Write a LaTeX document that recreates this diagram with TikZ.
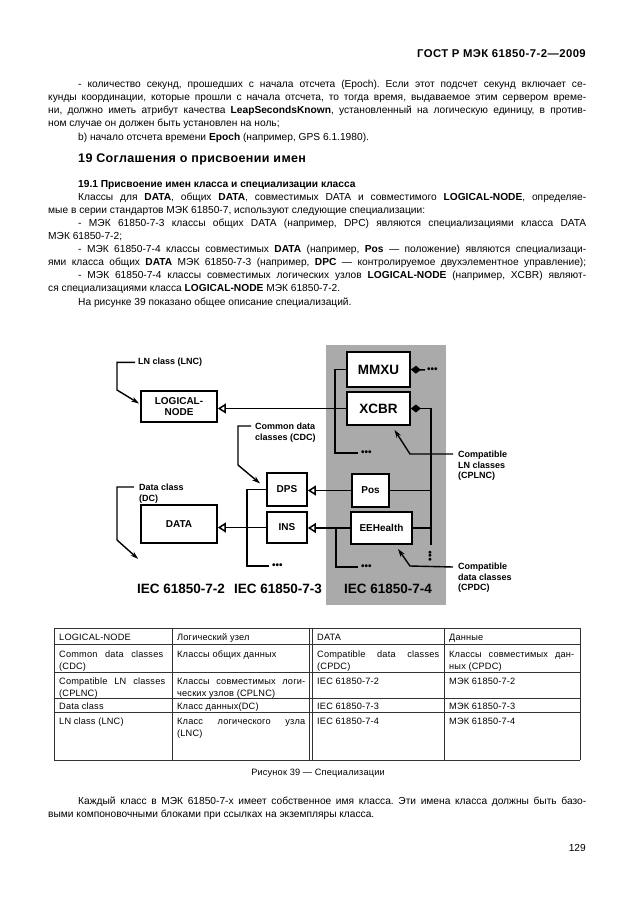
\documentclass[tikz,border=0pt]{standalone}
\usepackage{fontspec}
\setmainfont{Liberation Sans}
\newfontfamily\headfont[LetterSpace=3]{Liberation Sans}
\newfontfamily\hdrfont[LetterSpace=4]{Liberation Sans}
\newfontfamily\tabfont[LetterSpace=2]{Liberation Sans}
\usetikzlibrary{arrows.meta,calc}
\definecolor{panelgray}{RGB}{170,170,170}
\definecolor{tline}{RGB}{50,50,50}
\frenchspacing
\newcommand\jl[6]{\node[#1] (#2) at (#3,#4) {\hbox to #5pt{\frenchspacing\spaceskip=0.3em plus 1fil\relax #6}};}
\begin{document}
\begin{tikzpicture}[x=1pt,y=-1pt,
  txt/.style={anchor=base west, inner sep=0pt, font=\fontsize{10.2}{13}\selectfont},
  ttxt/.style={anchor=base west, inner sep=0pt, font=\fontsize{9.2}{12}\tabfont},
  box/.style={draw=black, line width=1.8pt, fill=white, inner sep=0pt, align=center,
              font=\fontsize{10}{11}\selectfont\bfseries},
  bigbox/.style={box, font=\fontsize{13.5}{14}\selectfont\bfseries},
  conn/.style={line width=1.5pt},
  hollow/.style={conn, -{Triangle[open,length=8pt,width=10pt,line width=1.5pt]}},
  diam/.style={conn, {Diamond[length=10pt,width=8pt]}-},
  lead/.style={line width=1.4pt, -{Stealth[length=8pt,width=5pt]}},
  lbl/.style={font=\fontsize{9}{10.5}\selectfont\bfseries, align=left, inner sep=0pt, anchor=north west},
  dots/.style={font=\fontsize{10}{10}\selectfont\bfseries, inner sep=0pt},
  std/.style={font=\fontsize{13.5}{14}\selectfont\bfseries, inner sep=0pt, anchor=base},
  tl/.style={draw=tline, line width=0.8pt}
]
\useasboundingbox (0,0) rectangle (630,913);
\fill[white] (0,0) rectangle (630,913);

% ---------- header and text ----------
\node[txt, anchor=base east, font=\fontsize{11.3}{12}\hdrfont\bfseries] (hdr) at (586,57) {ГОСТ Р МЭК 61850-7-2—2009};

\jl{txt}{p1}{78}{87}{508}{- количество секунд, прошедших с начала отсчета (Epoch). Если этот подсчет секунд включает се-}
\jl{txt}{p2}{48}{100}{538}{кунды координации, которые прошли с начала отсчета, то тогда время, выдаваемое этим сервером време-}
\jl{txt}{p3}{48}{113}{538}{ни, должно иметь атрибут качества \textbf{LeapSecondsKnown}, установленный на логическую единицу, в против-}
\node[txt] (p4) at (48,126) {ном случае он должен быть установлен на ноль;};
\node[txt] (p5) at (78,140) {b) начало отсчета времени \textbf{Epoch} (например, GPS 6.1.1980).};

\node[txt, font=\fontsize{12.5}{14}\headfont\bfseries] (h19) at (78,162) {19 Соглашения о присвоении имен};
\node[txt, font=\fontsize{10.2}{13}\selectfont\bfseries] (h191) at (78,187) {19.1 Присвоение имен класса и специализации класса};
\jl{txt}{q1}{78}{200}{508}{Классы для \textbf{DATA}, общих \textbf{DATA}, совместимых DATA и совместимого \textbf{LOGICAL-NODE}, определяе-}
\node[txt] (q2) at (48,213) {мые в серии стандартов МЭК 61850-7, используют следующие специализации:};
\jl{txt}{q3}{78}{226}{508}{- МЭК 61850-7-3 классы общих DATA (например, DPC) являются специализациями класса DATA}
\node[txt] (q4) at (48,239) {МЭК 61850-7-2;};
\jl{txt}{q5}{78}{252}{508}{- МЭК 61850-7-4 классы совместимых \textbf{DATA} (например, \textbf{Pos} — положение) являются специализаци-}
\jl{txt}{q6}{48}{265}{538}{ями класса общих \textbf{DATA} МЭК 61850-7-3 (например, \textbf{DPC} — контролируемое двухэлементное управление);}
\jl{txt}{q7}{78}{278}{508}{- МЭК 61850-7-4 классы совместимых логических узлов \textbf{LOGICAL-NODE} (например, XCBR) являют-}
\node[txt] (q8) at (48,291) {ся специализациями класса \textbf{LOGICAL-NODE} МЭК 61850-7-2.};
\node[txt] (q9) at (78,305) {На рисунке 39 показано общее описание специализаций.};

% ---------- diagram ----------
\node[fill=panelgray, minimum width=120pt, minimum height=260pt, inner sep=0pt, anchor=north west] (pnl) at (326,345) {};

\node[box, minimum width=76pt, minimum height=31pt] (ln) at (179,406.5) {LOGICAL-\\NODE};
\node[box, minimum width=76pt, minimum height=38pt] (data) at (179,524) {DATA};
\node[box, minimum width=40pt, minimum height=33pt] (dps) at (287,489.5) {DPS};
\node[box, minimum width=40pt, minimum height=31pt] (ins) at (287,527.5) {INS};
\node[bigbox, minimum width=63pt, minimum height=35pt] (mmxu) at (378.5,369.5) {MMXU};
\node[bigbox, minimum width=63pt, minimum height=33pt] (xcbr) at (378.5,408.5) {XCBR};
\node[box, minimum width=37pt, minimum height=33pt] (pos) at (370.5,490.5) {Pos};
\node[box, minimum width=61pt, minimum height=32pt] (eeh) at (381.5,528) {EEHealth};

% dots
\node[dots, anchor=west] (d1) at (361,453) {•••};
\node[dots, anchor=west] (d2) at (427,370) {•••};
\node[dots, rotate=90] (d3) at (431,556) {•••};
\node[dots, anchor=west] (d4) at (272,566) {•••};
\node[dots, anchor=west] (d5) at (361,567) {•••};
\coordinate (vbot) at (431,545);

% specialisation connectors
\draw[hollow] (xcbr.west) -- (xcbr.west -| ln.east);
\draw[hollow] (pos.west) -- (pos.west -| dps.east);
\draw[hollow] (eeh.west) -- (eeh.west -| ins.east);
\draw[hollow] (ins.west) -- (ins.west -| data.east);

% brackets
\draw[conn] (mmxu.west) -- ++(-11,0) |- ([xshift=-3pt]d1.west);
\draw[diam] (mmxu.east) -- ([xshift=-2pt]d2.west);
\draw[diam] (xcbr.east) -| (vbot);
\draw[conn] (pos.east) -- (pos.east -| vbot);
\draw[conn] (eeh.east) -- (eeh.east -| vbot);
\draw[conn] (dps.west) -- ++(-19,0) |- ([xshift=-3pt]d4.west);
\draw[conn] ($(eeh.west)+(-14,0)$) |- ([xshift=-3pt]d5.west);

% labels and leaders
\node[lbl] (lnc) at (138,358) {LN class (LNC)};
\draw[lead] ([xshift=-3pt]lnc.west) -| (117,390) -- ($(ln.west)+(-1,-3)$);

\node[lbl] (cdc) at (255,423) {Common data\\classes (CDC)};
\draw[lead] ($(cdc.north west)+(-4,3)$) -| (238,465) -- ($(dps.west)+(-6,-6)$);

\node[lbl] (dc) at (139,484) {Data class\\(DC)};
\draw[lead] ($(dc.north west)+(-5,3)$) -| (117,540) -- ($(data.south west)+(-2,15)$);

\node[lbl] (cplnc) at (458,451) {Compatible\\LN classes\\(CPLNC)};
\draw[lead] ($(cplnc.north west)+(-5,3)$) -- (410,454) -- ($(xcbr.south)+(16,4)$);

\node[lbl] (cpdc) at (458,563) {Compatible\\data classes\\(CPDC)};
\draw[lead] ($(cpdc.north west)+(-5,4)$) -- (410,566) -- ($(eeh.south)+(16.5,4)$);

\node[std] (s72) at (181,593) {IEC 61850-7-2};
\node[std] (s73) at (278,593) {IEC 61850-7-3};
\node[std] (s74) at (388,593) {IEC 61850-7-4};

% ---------- table ----------
\draw[tl] (54,628) -- (580,628);
\draw[tl] (54,644) -- (580,644);
\draw[tl] (54,672) -- (580,672);
\draw[tl] (54,698) -- (580,698);
\draw[tl] (54,712) -- (580,712);
\draw[tl] (54,760) -- (580,760);
\draw[tl] (54,628) -- (54,760);
\draw[tl] (172,628) -- (172,760);
\draw[tl] (309,628) -- (309,760);
\draw[tl] (312,628) -- (312,760);
\draw[tl] (444,628) -- (444,760);
\draw[tl] (580,628) -- (580,760);

\node[ttxt] (t11) at (59,640) {LOGICAL-NODE};
\node[ttxt] (t12) at (177,640) {Логический узел};
\node[ttxt] (t13) at (317,640) {DATA};
\node[ttxt] (t14) at (449,640) {Данные};

\jl{ttxt}{t21}{59}{657}{104}{Common data classes}
\node[ttxt] (t21b) at (59,669) {(CDC)};
\node[ttxt] (t22) at (177,657) {Классы общих данных};
\jl{ttxt}{t23}{317}{657}{122}{Compatible data classes}
\node[ttxt] (t23b) at (317,669) {(CPDC)};
\jl{ttxt}{t24}{449}{657}{125}{Классы совместимых дан-}
\node[ttxt] (t24b) at (449,669) {ных (CPDC)};

\jl{ttxt}{t31}{59}{684}{106}{Compatible LN classes}
\node[ttxt] (t31b) at (59,696) {(CPLNC)};
\jl{ttxt}{t32}{177}{684}{128}{Классы совместимых логи-}
\node[ttxt] (t32b) at (177,696) {ческих узлов (CPLNC)};
\node[ttxt] (t33) at (317,684) {IEC 61850-7-2};
\node[ttxt] (t34) at (449,684) {МЭК 61850-7-2};

\node[ttxt] (t41) at (59,709) {Data class};
\node[ttxt] (t42) at (177,709) {Класс данных(DC)};
\node[ttxt] (t43) at (317,709) {IEC 61850-7-3};
\node[ttxt] (t44) at (449,709) {МЭК 61850-7-3};

\node[ttxt] (t51) at (59,724) {LN class (LNC)};
\jl{ttxt}{t52}{177}{724}{128}{Класс логического узла}
\node[ttxt] (t52b) at (177,736) {(LNC)};
\node[ttxt] (t53) at (317,724) {IEC 61850-7-4};
\node[ttxt] (t54) at (449,724) {МЭК 61850-7-4};

\node[ttxt, anchor=base] (cap) at (318,775) {Рисунок 39 — Специализации};

\jl{txt}{r1}{78}{804}{508}{Каждый класс в МЭК 61850-7-х имеет собственное имя класса. Эти имена класса должны быть базо-}
\node[txt] (r2) at (48,817) {выми компоновочными блоками при ссылках на экземпляры класса.};
\node[txt, anchor=base east] (pg) at (586,851) {129};
\end{tikzpicture}
\end{document}
